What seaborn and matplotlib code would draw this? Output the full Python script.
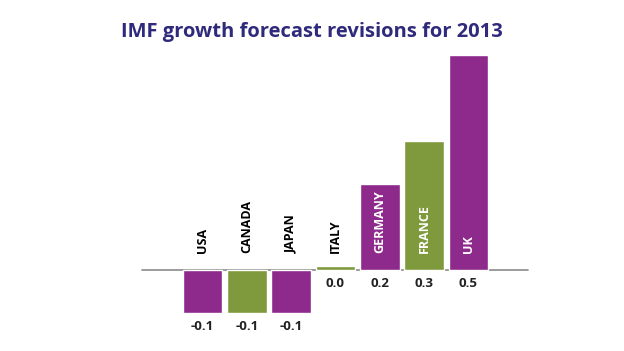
import matplotlib
matplotlib.use("Agg")
import matplotlib.pyplot as plt
import seaborn as sns

# ==============================
# DATA
# ==============================
countries = ["USA", "CANADA", "JAPAN", "ITALY", "GERMANY", "FRANCE", "UK"]
revisions = [-0.1, -0.1, -0.1, 0.01, 0.2, 0.3, 0.5]
bar_colors = ["#8E2A8C", "#7F9A3C", "#8E2A8C", "#7F9A3C", "#8E2A8C", "#7F9A3C", "#8E2A8C"]

PURPLE_TITLE = "#2F2A7C"

sns.set_style("white")
plt.rcParams['font.family'] = ['Open Sans', 'DejaVu Sans']

fig = plt.figure(figsize=(6.24, 3.51), dpi=100)
ax = fig.add_axes([0, 0, 1, 1])

sns.barplot(x=countries, y=revisions, hue=countries, palette=bar_colors,
            width=0.9, saturation=1, legend=False, ax=ax)

ax.set_xlim(-4.57, 9.51)
ax.set_ylim(-0.188, 0.628)
ax.axhline(0, xmin=0.228, xmax=0.846, color="#8a8a8a", lw=1.2, zorder=0)
ax.axis("off")

# country names + value labels
for i, (name, val) in enumerate(zip(countries, revisions)):
    txt_color = "white" if val > 0.1 else "black"
    ax.text(i, 0.04, name, rotation=90, ha="center", va="bottom",
            fontsize=9, fontweight="bold", color=txt_color)
    label_y = val - 0.03 if val < 0 else -0.03
    ax.text(i, label_y, f"{val:.1f}", ha="center", va="center",
            fontsize=9.5, fontweight="bold", color="#222222")

fig.text(0.5, 0.91, "IMF growth forecast revisions for 2013", ha="center", va="center",
         fontsize=14.5, fontweight="bold", color=PURPLE_TITLE)

plt.savefig("out.png", dpi=100)
